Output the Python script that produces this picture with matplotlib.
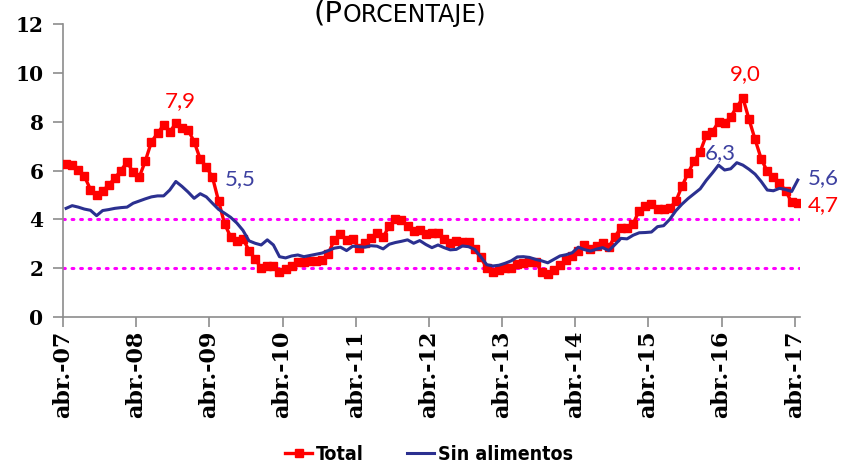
import matplotlib
matplotlib.use("Agg")
import matplotlib.pyplot as plt
from matplotlib.font_manager import FontProperties
import numpy as np

# ---- data -------------------------------------------------------------
tick_labels = ["abr.-07", "abr.-08", "abr.-09", "abr.-10", "abr.-11", "abr.-12",
               "abr.-13", "abr.-14", "abr.-15", "abr.-16", "abr.-17"]

total = [
    6.26, 6.23, 6.03, 5.77, 5.22, 5.01, 5.16, 5.41, 5.69,            # abr-dic 07
    6.00, 6.35, 5.93, 5.73, 6.39, 7.18, 7.52, 7.87, 7.57, 7.94, 7.73, 7.67,  # 08
    7.18, 6.47, 6.14, 5.73, 4.76, 3.81, 3.28, 3.13, 3.21, 2.72, 2.37, 2.00,  # 09
    2.10, 2.09, 1.84, 1.98, 2.07, 2.25, 2.24, 2.31, 2.28, 2.33, 2.59, 3.17,  # 10
    3.40, 3.17, 3.19, 2.84, 3.02, 3.23, 3.42, 3.27, 3.73, 4.02, 3.96, 3.73,  # 11
    3.54, 3.55, 3.40, 3.43, 3.44, 3.20, 3.03, 3.11, 3.08, 3.06, 2.77, 2.44,  # 12
    2.00, 1.83, 1.91, 2.02, 2.00, 2.16, 2.22, 2.27, 2.27, 1.84, 1.76, 1.94,  # 13
    2.13, 2.32, 2.51, 2.72, 2.93, 2.79, 2.89, 3.02, 2.86, 3.29, 3.65, 3.66,  # 14
    3.82, 4.36, 4.56, 4.64, 4.41, 4.42, 4.46, 4.74, 5.35, 5.89, 6.39, 6.77,  # 15
    7.45, 7.59, 7.98, 7.93, 8.20, 8.60, 8.97, 8.10, 7.27, 6.48, 5.96, 5.75,  # 16
    5.47, 5.18, 4.69, 4.66,                                              # ene-abr 17
]

sin_alimentos = [
    4.45, 4.56, 4.50, 4.42, 4.37, 4.15, 4.36, 4.40, 4.45,
    4.48, 4.50, 4.66, 4.75, 4.84, 4.92, 4.96, 4.96, 5.20, 5.55, 5.35, 5.12,
    4.86, 5.05, 4.92, 4.66, 4.41, 4.25, 4.08, 3.85, 3.55, 3.12, 3.02, 2.95,
    3.16, 2.95, 2.47, 2.42, 2.50, 2.54, 2.47, 2.52, 2.57, 2.62, 2.72, 2.82,
    2.86, 2.72, 2.90, 2.88, 2.86, 2.92, 2.90, 2.79, 2.98, 3.05, 3.10, 3.16,
    3.02, 3.13, 2.97, 2.84, 2.95, 2.84, 2.75, 2.77, 2.91, 2.88, 2.77, 2.47,
    2.14, 2.09, 2.12, 2.20, 2.30, 2.46, 2.47, 2.44, 2.36, 2.30, 2.22, 2.36,
    2.50, 2.55, 2.63, 2.86, 2.76, 2.70, 2.78, 2.84, 2.72, 2.96, 3.22, 3.20,
    3.35, 3.45, 3.46, 3.48, 3.70, 3.74, 4.00, 4.35, 4.62, 4.85, 5.05, 5.25,
    5.60, 5.90, 6.22, 6.02, 6.07, 6.32, 6.22, 6.05, 5.85, 5.55, 5.20, 5.17,
    5.27, 5.22, 5.14, 5.61,
]

band_lines = [2, 4]

# ---- figure -------------------------------------------------------------
RED = "#FF0000"
NAVY = "#2B3090"
LABNAVY = "#3C40A0"

fig = plt.figure(figsize=(8.45, 4.67), dpi=100)
ax = fig.add_axes([0.0746, 0.3212, 0.8724, 0.6274])

x = np.arange(len(total))
ax.plot(x, total, color=RED, lw=2.4, marker="s", ms=6, mec=RED, mfc=RED,
        label="Total", zorder=3)
ax.plot(np.arange(len(sin_alimentos)), sin_alimentos, color=NAVY, lw=2.2,
        label="Sin alimentos", zorder=4)

for yv in band_lines:
    ax.axhline(yv, color="#FF00FF", lw=2.2, ls=(0, (0.6, 2.2)),
               dash_capstyle="round", zorder=2)

ax.set_ylim(0, 12)
ax.set_xlim(-0.5, 120.4)
ax.set_yticks(range(0, 13, 2))
ax.set_xticks(np.arange(len(tick_labels)) * 12 - 0.5)
ax.set_xticklabels(tick_labels, rotation=90)

xtick_fp = FontProperties(family=["DejaVu Serif"], weight="bold", size=16)
ytick_fp = FontProperties(family=["DejaVu Serif"], weight="bold", size=14.5)
for lab in ax.get_xticklabels():
    lab.set_fontproperties(xtick_fp)
for lab in ax.get_yticklabels():
    lab.set_fontproperties(ytick_fp)

for s in ["top", "right"]:
    ax.spines[s].set_visible(False)
for s in ["left", "bottom"]:
    ax.spines[s].set_color("#8C8C8C")
    ax.spines[s].set_linewidth(1.2)
ax.tick_params(axis="both", colors="#8C8C8C", length=7, width=1.2,
               labelcolor="black")
ax.tick_params(axis="y", pad=7)
ax.tick_params(axis="x", pad=3)

# value annotations
afont = dict(family=["Lato", "DejaVu Sans"], fontsize=16)
i_tot_max1 = int(np.argmax(total[:40]))
i_tot_max2 = int(np.argmax(total))
i_sin_max1 = int(np.argmax(sin_alimentos[:40]))
i_sin_lab2 = 107
last = len(total) - 1
ax.annotate("7,9", (i_tot_max1, total[i_tot_max1]),
            xytext=(4, 22), textcoords="offset pixels", ha="center", va="center",
            color=RED, **afont)
ax.annotate("9,0", (i_tot_max2, total[i_tot_max2]),
            xytext=(2, 24), textcoords="offset pixels", ha="center", va="center",
            color=RED, **afont)
ax.annotate("5,5", (i_sin_max1, sin_alimentos[i_sin_max1]),
            xytext=(64, 2), textcoords="offset pixels", ha="center", va="center",
            color=LABNAVY, **afont)
ax.annotate("6,3", (i_sin_lab2, sin_alimentos[i_sin_lab2]),
            xytext=(2, 12), textcoords="offset pixels", ha="center", va="center",
            color=LABNAVY, **afont)
ax.annotate("5,6", (last, sin_alimentos[last]),
            xytext=(10, 2), textcoords="offset pixels", ha="left", va="center",
            color=LABNAVY, **afont, annotation_clip=False)
ax.annotate("4,7", (last, total[last]),
            xytext=(10, -2), textcoords="offset pixels", ha="left", va="center",
            color=RED, **afont, annotation_clip=False)

# title (small caps look)
tfam = ["DejaVu Sans"]
fig.text(0.405, 0.953, "(P", fontsize=21, family=tfam, ha="right", va="baseline")
fig.text(0.405, 0.953, "ORCENTAJE)", fontsize=17, family=tfam, ha="left", va="baseline")

leg = fig.legend(loc="lower center", bbox_to_anchor=(0.508, -0.03), ncol=2,
                 frameon=False, handlelength=1.4, handletextpad=0.2,
                 columnspacing=2.2,
                 prop=FontProperties(family=["DejaVu Sans"], stretch="condensed",
                                     weight="bold", size=14))

fig.savefig("out.png", dpi=100, facecolor="white")
